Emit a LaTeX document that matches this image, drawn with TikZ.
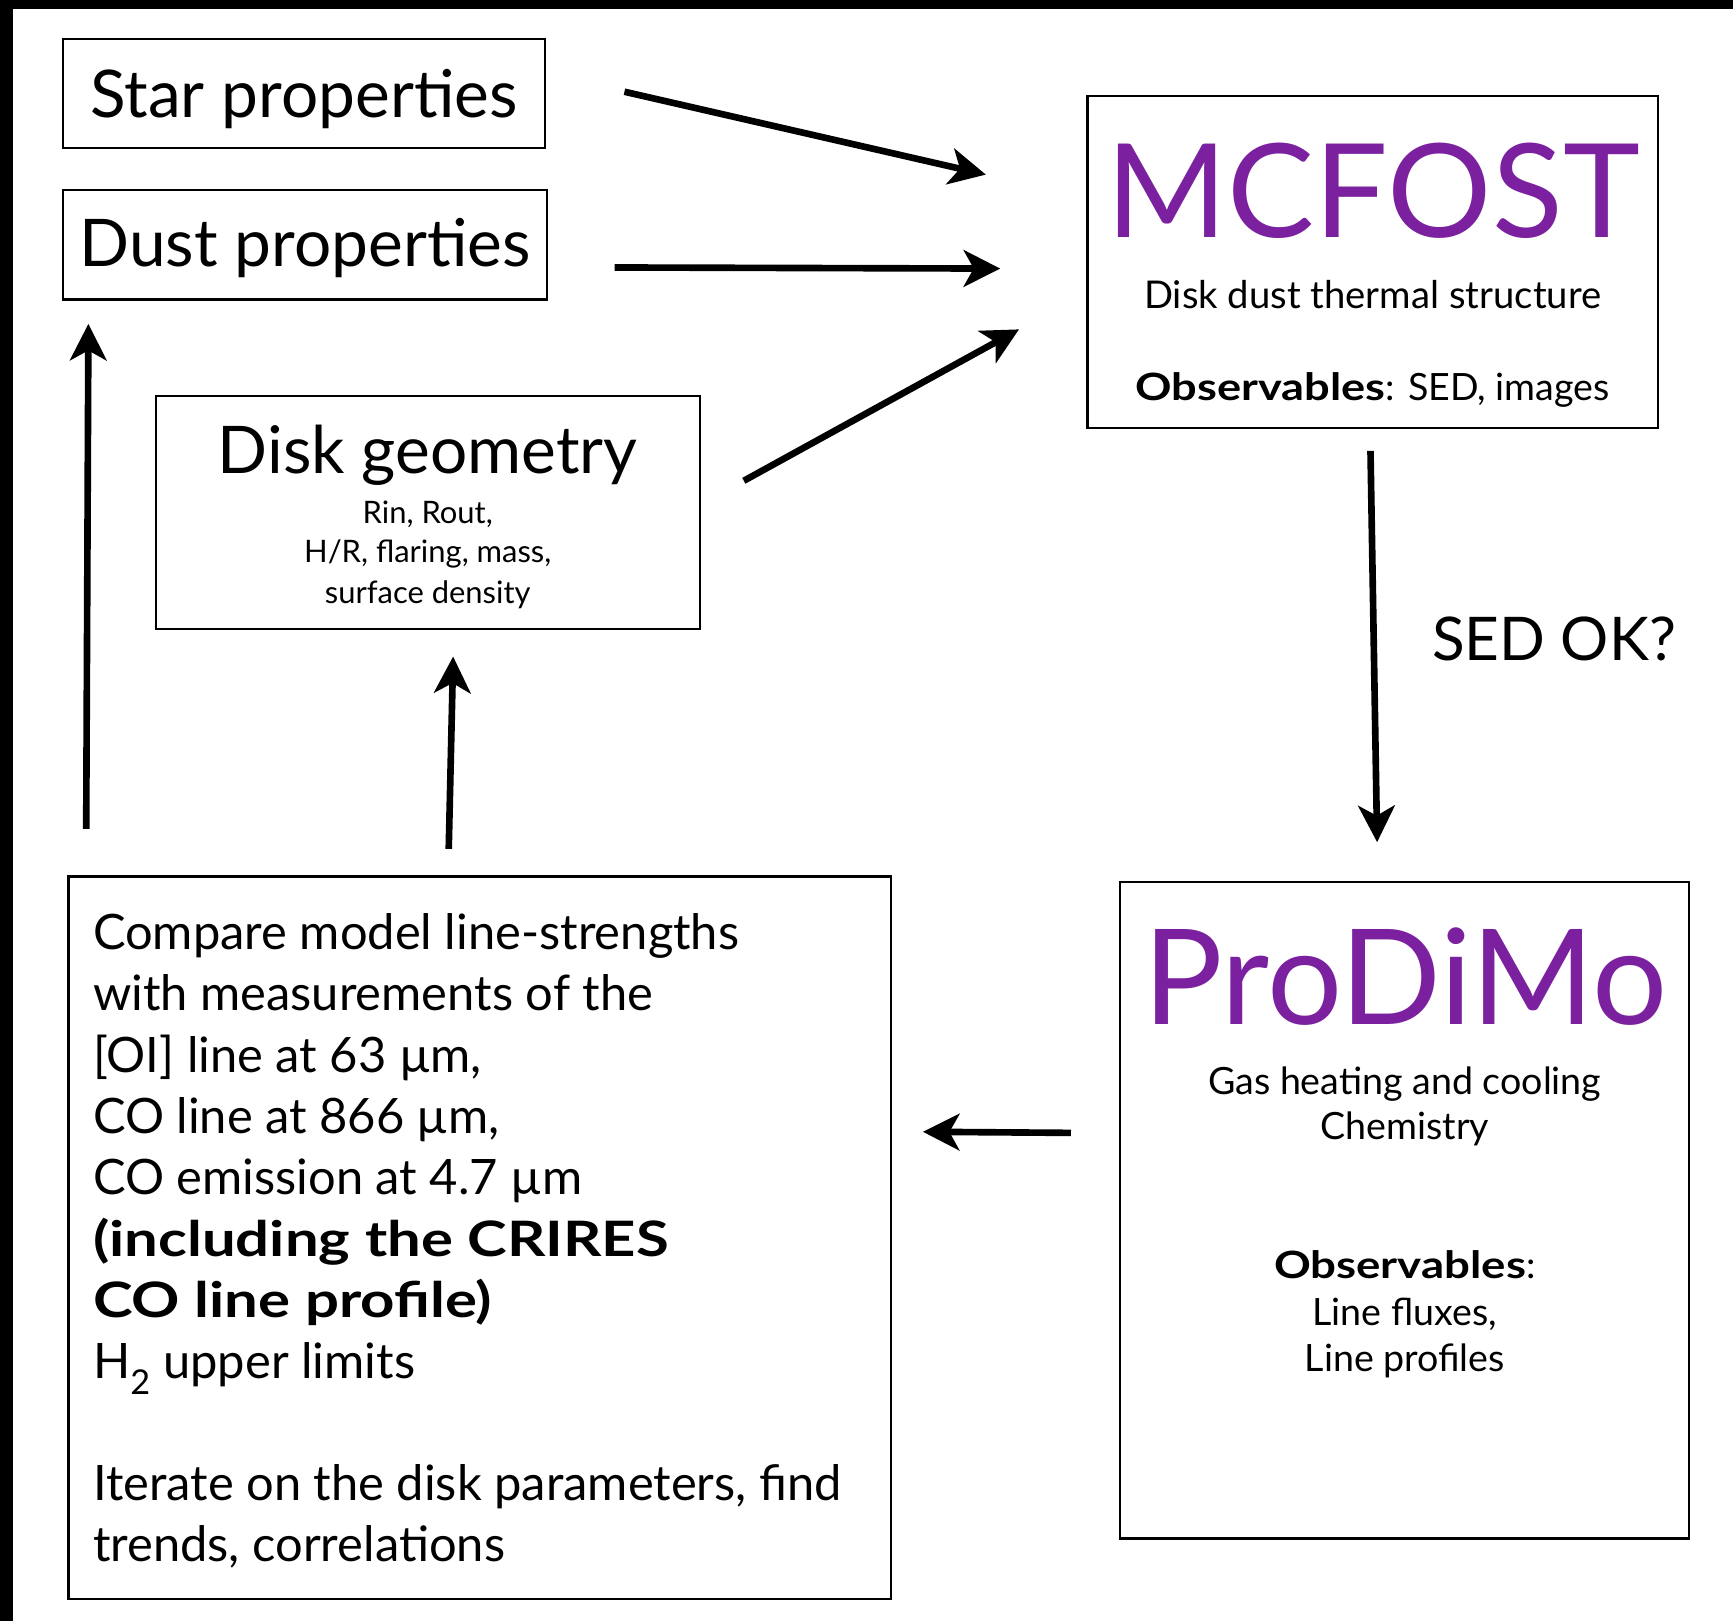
\documentclass[tikz,border=0pt]{standalone}
\usepackage{fontspec}
\usepackage{graphicx}
\setmainfont{Lato}
\usetikzlibrary{arrows.meta}
\definecolor{mcpurple}{RGB}{123,33,160}
\newcommand\setfs[1]{\fontsize{#1}{#1}\selectfont}
\newcommand\heavy[2]{\resizebox{#1}{\height}{\textbf{#2}}}
\begin{document}
\begin{tikzpicture}[x=1pt,y=-1pt,
  box/.style={draw, line width=2pt, inner sep=0pt},
  txt/.style={inner sep=0pt, anchor=base},
  ltxt/.style={inner sep=0pt, anchor=base west, font=\setfs{44.2}},
  arr/.style={line width=6pt, -{Stealth[length=33pt,width=33pt,inset=9pt]}}]
\useasboundingbox (0,0) rectangle (1568,1467);
\fill[white] (0,0) rectangle (1568,1467);
\fill[black] (0,0) rectangle (1568,8);
\fill[black] (0,0) rectangle (12,1467);
% boxes
\node[box, minimum width=436pt, minimum height=99pt] (star) at (275,84.5) {};
\node[box, minimum width=438pt, minimum height=99pt] (dust) at (276,221.5) {};
\node[box, minimum width=492pt, minimum height=211pt] (geom) at (387,463.5) {};
\node[box, minimum width=516pt, minimum height=300pt] (mcfost) at (1242,237) {};
\node[box, minimum width=515pt, minimum height=594pt] (prodimo) at (1270.5,1095) {};
\node[box, minimum width=744pt, minimum height=654pt] (compare) at (434,1120) {};
% texts
\node[txt, font=\setfs{59.5}] (startxt) at (275,106) {Star properties};
\node[txt, font=\setfs{59.5}] (dusttxt) at (276,241) {Dust properties};
\node[txt, font=\setfs{59.5}] (geomtxt) at (387,428) {Disk geometry};
\node[txt, font=\setfs{28}] (g1) at (387,474) {Rin, Rout,};
\node[txt, font=\setfs{28}] (g2) at (387,509) {H/R, flaring, mass,};
\node[txt, font=\setfs{28}] (g3) at (387,546) {surface density};
\node[txt, font=\setfs{118}, text=mcpurple] (mctxt) at (1242.5,215) {MCFOST};
\node[txt, font=\setfs{34.6}] (m1) at (1242,279) {Disk dust thermal structure};
\node[txt, font=\setfs{34}] (m2) at (1242,362) {\heavy{226pt}{Observables}:\hspace{12pt}SED, images};
\node[txt, font=\setfs{54.5}] (sedok) at (1406,598) {SED OK?};
\node[txt, font=\setfs{120}, text=mcpurple] (pdtxt) at (1271.5,927) {ProDiMo};
\node[txt, font=\setfs{34}] (p1) at (1271,990) {Gas heating and cooling};
\node[txt, font=\setfs{34}] (p2) at (1271,1031) {Chemistry};
\node[txt, font=\setfs{34}] (p3) at (1271,1157) {\heavy{228pt}{Observables}:};
\node[txt, font=\setfs{34}] (p4) at (1271,1199) {Line fluxes,};
\node[txt, font=\setfs{34}] (p5) at (1271,1241) {Line profiles};
\node[ltxt] (c1) at (84,859) {Compare model line-strengths};
\node[ltxt] (c2) at (84,914.5) {with measurements of the};
\node[ltxt] (c3) at (84,970) {[OI] line at 63 µm,};
\node[ltxt] (c4) at (84,1025.5) {CO line at 866 µm,};
\node[ltxt] (c5) at (84,1081) {CO emission at 4.7 µm};
\node[ltxt] (c6) at (84,1136.5) {\heavy{521pt}{(including the CRIRES}};
\node[ltxt] (c7) at (84,1192) {\heavy{361pt}{CO line profile)}};
\node[ltxt] (c8) at (84,1247.5) {H\textsubscript{2} upper limits};
\node[ltxt] (c9) at (84,1358) {Iterate on the disk parameters, find};
\node[ltxt] (c10) at (84,1413) {trends, correlations};
% arrow end points
\coordinate (a1s) at (565,83);   \coordinate (a1e) at (892,158);
\coordinate (a2s) at (556,242);  \coordinate (a2e) at (905,243);
\coordinate (a3s) at (673,435);  \coordinate (a3e) at (922,298);
\coordinate (a4s) at (1240,408); \coordinate (a4e) at (1246,762);
\coordinate (a5s) at (969,1025); \coordinate (a5e) at (835,1024);
\coordinate (a6s) at (406,768);  \coordinate (a6e) at (410,594);
\coordinate (a7s) at (78,750);   \coordinate (a7e) at (80,293);
\draw[arr] (a1s) -- (a1e);
\draw[arr] (a2s) -- (a2e);
\draw[arr] (a3s) -- (a3e);
\draw[arr] (a4s) -- (a4e);
\draw[arr] (a5s) -- (a5e);
\draw[arr] (a6s) -- (a6e);
\draw[arr] (a7s) -- (a7e);
\end{tikzpicture}
\end{document}
